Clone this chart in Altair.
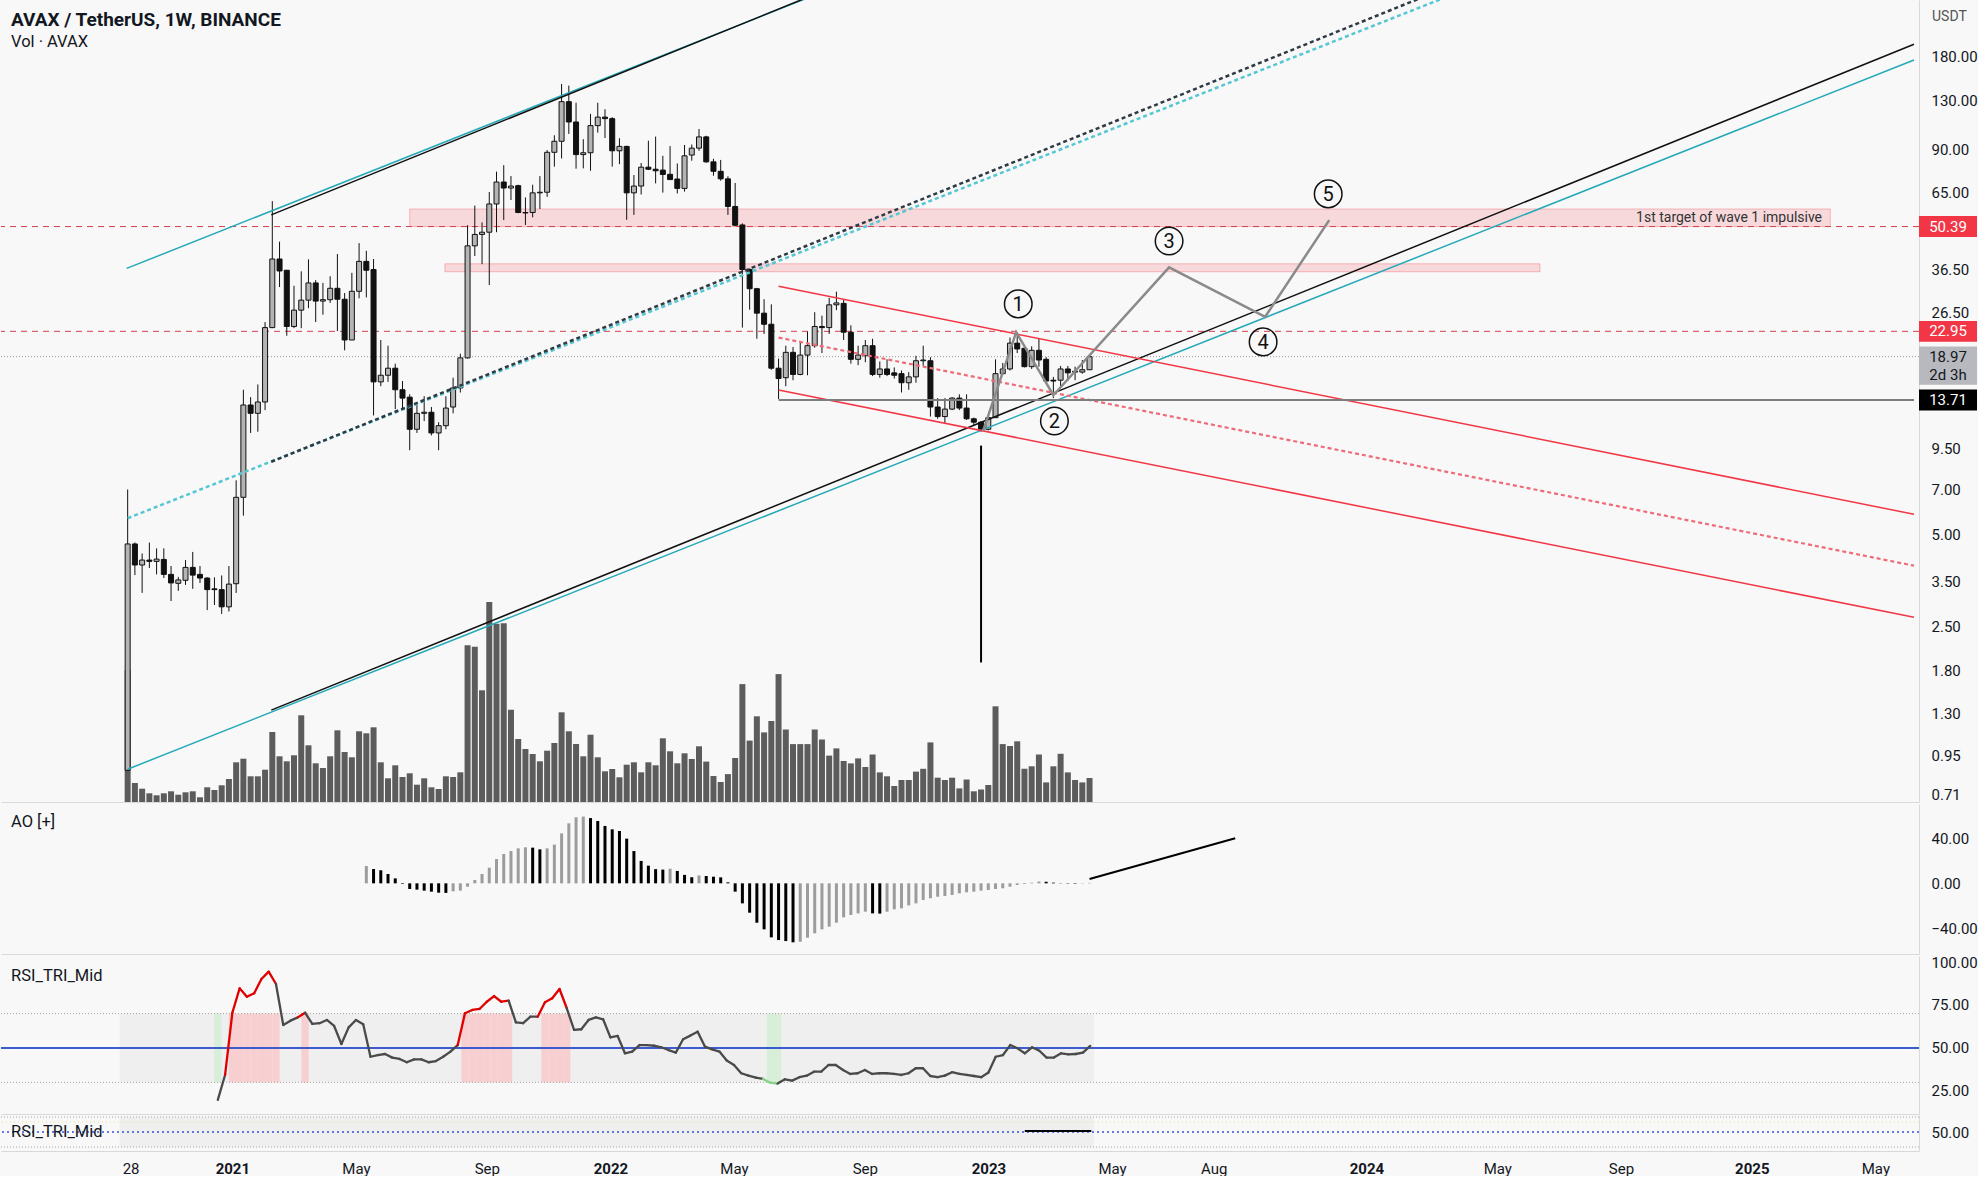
import altair as alt
import numpy as np
import pandas as pd

# ---------------------------------------------------------------- data
FIRST_WEEK = "2020-09-21"          # Monday of the first weekly candle
N_WEEKS = 134

opens = [0.85, 4.65, 3.97, 4.12, 4.08, 4.14, 3.70, 3.46, 3.54, 3.90,
         3.70, 3.60, 3.32, 3.30, 2.90, 3.45, 6.6, 13.2, 12.4, 13.5,
         23.6, 39.5, 36.3, 23.8, 26.9, 29.0, 33.0, 28.8, 29.1, 31.7,
         29.2, 21.5, 31.0, 38.8, 36.5, 15.7, 16.5, 17.4, 14.8, 14.0,
         11.0, 12.4, 12.5, 10.7, 11.3, 13.0, 15.0, 18.8, 43.6, 47.5,
         48.3, 59.7, 70.4, 67.3, 68.5, 56.0, 56.0, 64.9, 65.2, 88.0,
         95.6, 128.7, 110.5, 86.5, 87.7, 107.5, 114.6, 113.3, 89.0, 92.0,
         64.9, 68.3, 78.7, 77.5, 77.0, 74.6, 72.0, 67.1, 86.2, 90.8,
         98.8, 81.9, 76.3, 72.1, 58.6, 51.0, 36.5, 31.6, 26.3, 24.2,
         17.4, 16.2, 19.6, 16.6, 19.2, 20.6, 23.8, 23.6, 28.0, 28.3,
         22.8, 18.6, 19.1, 20.6, 16.6, 17.3, 16.8, 16.7, 15.6, 16.3,
         18.4, 18.4, 13.0, 12.1, 12.8, 13.9, 12.9, 11.9, 11.6, 11.0,
         12.0, 16.7, 17.3, 21.0, 20.2, 17.6, 19.9, 18.6, 15.9, 15.9,
         17.3, 17.0, 16.9, 17.2]
highs = [7.0, 4.7, 4.33, 4.7, 4.5, 4.5, 3.94, 3.63, 4.12, 4.38,
         3.94, 3.62, 3.62, 3.67, 3.94, 7.5, 14.8, 14.0, 15.4, 24.6,
         61.0, 45.0, 36.3, 32.3, 36.0, 39.4, 33.7, 33.0, 34.7, 41.0,
         30.6, 35.6, 44.5, 42.0, 39.5, 21.5, 20.6, 18.0, 15.8, 14.3,
         13.2, 14.1, 13.0, 11.6, 14.1, 16.2, 19.4, 50.9, 59.0, 52.0,
         65.3, 76.1, 79.9, 73.6, 69.0, 62.7, 69.0, 73.6, 89.5, 100.0,
         147.0, 145.2, 127.7, 97.1, 117.4, 127.7, 121.6, 114.6, 97.8, 92.4,
         74.2, 81.2, 96.0, 99.0, 85.7, 92.2, 80.9, 93.0, 93.3, 104.8,
         99.6, 83.8, 83.1, 73.5, 69.9, 51.6, 36.8, 31.8, 29.2, 28.1,
         18.7, 20.6, 20.4, 21.2, 22.9, 26.5, 25.8, 29.5, 30.9, 29.2,
         24.0, 20.6, 21.5, 21.7, 18.3, 18.6, 17.5, 17.1, 16.9, 19.1,
         20.6, 18.9, 13.9, 13.9, 14.0, 14.3, 14.3, 12.0, 11.7, 12.1,
         18.6, 18.1, 21.9, 22.7, 20.4, 20.5, 21.7, 18.9, 16.3, 17.7,
         17.7, 17.6, 18.5, 19.2]
lows = [0.85, 3.68, 3.22, 3.88, 3.70, 3.60, 3.03, 3.27, 3.42, 3.32,
        3.47, 2.83, 2.94, 2.75, 2.80, 3.22, 5.75, 10.7, 10.8, 12.7,
        23.5, 32.0, 22.2, 23.5, 23.5, 27.3, 24.6, 26.0, 28.4, 23.0,
        19.9, 21.5, 29.4, 29.6, 12.2, 15.2, 15.7, 12.8, 12.7, 9.4,
        10.7, 11.7, 10.5, 9.4, 11.0, 12.4, 14.5, 18.7, 40.4, 38.0,
        32.5, 48.3, 52.9, 61.5, 55.7, 51.0, 54.0, 57.5, 63.0, 79.0,
        84.0, 101.0, 77.8, 78.0, 76.6, 102.0, 98.0, 79.0, 80.5, 53.0,
        55.0, 64.1, 77.0, 69.7, 65.0, 71.7, 64.6, 65.5, 82.6, 89.0,
        81.4, 73.8, 71.1, 55.0, 50.5, 23.6, 27.0, 21.7, 22.5, 17.2,
        13.8, 15.2, 15.9, 16.5, 16.5, 20.3, 19.5, 22.5, 26.9, 21.5,
        18.0, 17.8, 18.2, 16.4, 16.2, 16.4, 16.1, 14.5, 14.8, 15.6,
        17.7, 12.1, 11.9, 11.5, 12.7, 12.7, 11.8, 11.3, 10.8, 10.9,
        12.0, 16.6, 17.1, 19.5, 17.5, 17.3, 17.6, 15.7, 13.9, 15.2,
        15.8, 15.9, 16.7, 17.2]
closes = [4.65, 3.97, 4.12, 4.08, 4.15, 3.70, 3.47, 3.55, 3.90, 3.68,
          3.60, 3.30, 3.30, 2.90, 3.44, 6.6, 13.2, 12.4, 13.5, 23.6,
          39.5, 36.1, 23.8, 26.9, 29.0, 33.0, 28.8, 29.1, 31.7, 29.2,
          21.5, 31.0, 38.8, 36.3, 15.7, 16.5, 17.4, 14.8, 13.9, 11.0,
          12.4, 12.5, 10.7, 11.3, 12.9, 15.0, 18.8, 43.6, 47.5, 48.3,
          59.7, 70.4, 67.3, 68.3, 56.0, 55.8, 64.9, 65.2, 88.0, 95.6,
          128.7, 110.5, 86.5, 87.7, 107.5, 114.6, 113.3, 89.0, 92.0, 64.9,
          68.3, 78.7, 77.5, 76.6, 74.5, 71.7, 67.1, 85.7, 90.8, 98.8,
          81.9, 76.3, 72.1, 58.6, 50.9, 36.5, 31.6, 26.3, 24.2, 17.4,
          16.1, 19.6, 16.6, 19.2, 20.6, 23.8, 23.6, 28.0, 28.4, 22.8,
          18.6, 19.2, 20.6, 16.6, 17.3, 16.6, 16.5, 15.6, 16.3, 18.4,
          18.5, 13.0, 12.1, 12.8, 13.9, 12.9, 11.9, 11.6, 11.0, 12.0,
          16.7, 17.3, 21.0, 20.1, 17.6, 19.9, 18.5, 15.8, 15.8, 17.3,
          16.8, 16.9, 17.2, 18.97]
volumes = [132, 19, 13.3, 8.7, 6.7, 8.7, 10.7, 7.3, 9.7, 10.7,
           4.7, 14.7, 12, 16.7, 23, 39.7, 43.3, 25.7, 25.7, 32.3,
           70, 45.7, 40.7, 46.7, 86.7, 56.7, 38.7, 34, 45.7, 71.7,
           50, 44.7, 70.7, 68.7, 74.7, 39.7, 23.7, 36.7, 25, 28.7,
           17.3, 23.7, 14.7, 13, 25.7, 25, 29.7, 156.7, 155.3, 111.7,
           200, 178.3, 178.7, 92.3, 63, 53, 48, 40.7, 51.3, 59,
           89.7, 70.7, 58, 45.7, 67.3, 44.7, 30.7, 33, 24.7, 37.3,
           39.7, 29.7, 39.7, 36.7, 63.7, 50.7, 38.7, 48.7, 43, 55.7,
           40.4, 26, 20, 27.9, 44, 117.9, 61.4, 85.7, 69.6, 81,
           127.9, 72.5, 57.9, 57.9, 57.9, 72.5, 62.5, 46.4, 53.6, 41,
           38.6, 43.6, 35, 47.5, 29.6, 25.7, 16, 22, 22, 30.4,
           33.2, 59.6, 24.3, 22, 24.3, 13.6, 22.5, 10.7, 12.5, 17,
           95.7, 57.9, 56, 60.7, 33.2, 35.7, 47.5, 19.6, 35.7, 48.2,
           29.6, 22, 19.6, 24]

AO_FIRST = 33      # week index of the first Awesome Oscillator bar
ao_values = [15.4, 12.7, 11.6, 8.3, 4.4, -0.5, -5.0, -5.6, -6.5, -7.4,
             -8.3, -8.5, -7.1, -6.5, -3.0, 3.0, 8.3, 13.9, 21.6, 26.1,
             28.7, 31.1, 32.0, 31.7, 30.2, 31.1, 34.4, 44.4, 53.3, 58.7,
             59.3, 58.0, 55.4, 51.0, 48.0, 46.5, 39.7, 28.7, 19.9, 15.7,
             12.6, 12.2, 13.0, 11.0, 7.5, 5.4, 7.0, 6.5, 5.9, 5.3,
             0.9, -7.4, -17.8, -26.1, -35.0, -40.9, -48.0, -50.4, -51.3, -52.4,
             -51.9, -48.3, -44.4, -40.9, -38.5, -35.0, -30.2, -28.1, -26.7, -25.2,
             -26.7, -26.9, -25.2, -23.1, -22.2, -19.6, -17.8, -14.8, -13.3, -11.9,
             -11.3, -10.4, -8.9, -8.0, -7.4, -6.5, -5.9, -5.0, -4.4, -3.0,
             -1.5, -0.6, 0.6, 1.6, 1.4, 0.6, 0.2, -0.3, -0.4, -0.3,
             0.4]

RSI_FIRST = 13     # week index of the first RSI value
rsi_values = [19.8, 34.3, 70.5, 84.7, 79.8, 81.8, 90.1, 94.4, 87.2, 63.4,
              65.9, 67.8, 70.5, 64.0, 64.4, 66.3, 62.8, 52.3, 62.0, 66.3,
              63.8, 44.9, 45.9, 46.5, 44.4, 43.6, 41.7, 43.4, 43.4, 41.7,
              42.4, 44.9, 47.9, 51.7, 70.2, 72.1, 72.7, 76.9, 80.2, 76.9,
              77.5, 64.9, 64.4, 68.2, 68.2, 76.6, 78.9, 84.3, 73.1, 60.5,
              60.9, 66.3, 67.8, 66.7, 56.2, 57.0, 46.9, 47.9, 51.7, 51.7,
              51.3, 50.4, 48.8, 47.3, 55.1, 57.2, 59.5, 50.8, 49.2, 47.9,
              42.7, 40.1, 35.3, 33.9, 32.7, 32.0, 29.8, 29.3, 31.8, 31.0,
              33.0, 33.9, 36.2, 36.2, 40.1, 40.1, 37.2, 34.9, 35.3, 37.2,
              34.9, 35.3, 35.3, 34.9, 34.3, 35.3, 38.2, 38.2, 33.7, 33.0,
              33.9, 35.9, 34.9, 34.3, 33.7, 33.0, 35.7, 44.9, 45.9, 51.7,
              49.8, 46.9, 50.4, 48.4, 44.4, 44.4, 46.9, 46.3, 46.5, 47.3,
              51.2]

price_ticks = [180, 130, 90, 65, 36.5, 26.5, 9.5, 7, 5, 3.5, 2.5, 1.8, 1.3, 0.95, 0.71]
time_ticks = ["2020-09-28", "2021-01-04", "2021-05-03", "2021-09-06", "2022-01-03",
              "2022-05-02", "2022-09-05", "2023-01-02", "2023-05-01", "2023-08-07",
              "2024-01-01", "2024-05-06", "2024-09-02", "2025-01-06", "2025-05-05"]
time_range = ["2020-05-26 05:46", "2025-06-16 00:00"]
price_range = [0.670, 276.1]
ao_range = [-62.8, 70.5]
rsi_range = [11.6, 103.5]
mid_range = [24.7, 72.7]
volume_range = [0, 802]

# drawings (date, price)
drawings = {
    "top_cyan": [("2020-09-20", 36.8), ("2022-10-09", 370)],
    "top_black": [("2021-02-07", 55.0), ("2022-10-09", 374)],
    "mid_cyan": [("2020-09-21", 5.64), ("2024-05-10", 330)],
    "mid_black": [("2021-02-07", 8.62), ("2024-05-10", 355)],
    "base_cyan": [("2020-09-21", 0.857), ("2025-06-16", 176)],
    "base_black": [("2021-02-07", 1.336), ("2025-06-16", 198)],
    "down_upper": [("2022-06-13", 32.2), ("2025-06-16", 5.81)],
    "down_mid": [("2022-06-13", 21.9), ("2025-06-16", 3.95)],
    "down_lower": [("2022-06-13", 14.78), ("2025-06-16", 2.68)],
    "support": [("2022-06-13", 13.71), ("2025-06-16", 13.71)],
    "bottom_mark": [("2022-12-26", 9.73), ("2022-12-26", 1.91)],
    "wave_path": [("2022-12-28", 10.86), ("2023-01-29", 22.8), ("2023-03-06", 14.2),
                  ("2023-06-26", 37.1), ("2023-09-27", 25.6), ("2023-11-28", 52.9)],
}
wave_labels = [("2023-01-31", 28.2, "1"), ("2023-03-07", 11.7, "2"), ("2023-06-26", 45.2, "3"),
               ("2023-09-25", 21.2, "4"), ("2023-11-27", 64.4, "5")]
zones = [("2021-06-21", "2025-03-27", 50.39, 57.5), ("2021-07-25", "2024-06-19", 35.9, 38.1)]
zone_note = ("2025-03-19", 53.7, "1st target of wave 1 impulsive")
red_levels = [50.39, 22.95]
last_price = 18.97
support_level = 13.71
ao_trend = [("2023-04-10", 3.8), ("2023-08-29", 40.0)]
mid_trend = [("2023-02-06", 51.3), ("2023-04-11", 51.3)]

# ---------------------------------------------------------------- styles
FONT = "Roboto"
TXT = "#131722"
BG = "#f8f8f8"
SEP = "#d9d9d9"
CYAN = "#25a9b8"
RED = "#f23645"
W = 1918

line_styles = {
    "top_cyan": dict(color=CYAN, strokeWidth=1.5),
    "top_black": dict(color="#111111", strokeWidth=1.5),
    "mid_cyan": dict(color="#55c6d3", strokeWidth=2.5, strokeDash=[4, 3]),
    "mid_black": dict(color="#2f3b44", strokeWidth=2.5, strokeDash=[4, 3]),
    "base_cyan": dict(color=CYAN, strokeWidth=1.5),
    "base_black": dict(color="#111111", strokeWidth=1.5),
    "down_upper": dict(color=RED, strokeWidth=1.5),
    "down_mid": dict(color="#ee6b78", strokeWidth=2.2, strokeDash=[4, 3]),
    "down_lower": dict(color=RED, strokeWidth=1.5),
    "support": dict(color="#7d7d7d", strokeWidth=2),
    "bottom_mark": dict(color="#000000", strokeWidth=2),
    "wave_path": dict(color="#8a8a8a", strokeWidth=2.5),
}

# ---------------------------------------------------------------- frames
week_dates = pd.date_range(FIRST_WEEK, periods=N_WEEKS, freq="7D")
iso = "%Y-%m-%dT%H:%M:%SZ"
half = pd.Timedelta(hours=84)

candles = pd.DataFrame(dict(date=week_dates.strftime("%Y-%m-%d"), open=opens, high=highs,
                            low=lows, close=closes, volume=volumes))
candles["dir"] = np.where(candles.close >= candles.open, "up", "down")

ao = pd.DataFrame(dict(date=week_dates[AO_FIRST:].strftime("%Y-%m-%d"), ao=ao_values))
ao["dir"] = np.where(ao.ao.diff().fillna(1) > 0, "rise", "fall")

rsi_dates = week_dates[RSI_FIRST:]
rsi = pd.DataFrame(dict(date=rsi_dates, v=rsi_values))
seg = pd.DataFrame(dict(d1=rsi.date[:-1].dt.strftime(iso).values, d2=rsi.date[1:].dt.strftime(iso).values,
                        v1=rsi.v[:-1].values, v2=rsi.v[1:].values))
seg["zone"] = np.where(seg.v2 >= 69, "over", np.where(seg.v2 < 30, "under", "mid"))
flag = rsi[(rsi.v > 70) | (rsi.v < 30)].copy()
flag["kind"] = np.where(flag.v > 70, "over", "under")
flag["x1"] = (flag.date - half).dt.strftime(iso)
flag["x2"] = (flag.date + half).dt.strftime(iso)
flag["lo"], flag["hi"] = 30, 70
flag = flag.drop(columns=["date"])
band = pd.DataFrame(dict(x1=[(week_dates[0] - half).strftime(iso)],
                         x2=[(week_dates[-1] + half).strftime(iso)], lo=[30], hi=[70]))

draw_rows = []
for name, pts in drawings.items():
    for k, (d, p) in enumerate(pts):
        draw_rows.append(dict(name=name, date=d, price=p, seq=k))
draw_df = pd.DataFrame(draw_rows)


def ms(s):
    return int(pd.Timestamp(s, tz="UTC").value // 10**6)


# ---------------------------------------------------------------- scales / axes
x_scale = alt.Scale(type="utc", domain=[ms(t) for t in time_range], nice=False)
hidden_x = alt.Axis(labels=False, ticks=False, grid=False, domain=True, domainColor=SEP, title=None)
bottom_x = alt.Axis(values=[ms(t) for t in time_ticks], ticks=False, grid=False, domainColor=SEP,
                    labelExpr=("utcmonth(datum.value) == 0 ? utcFormat(datum.value, '%Y') : "
                               "(utcyear(datum.value) == 2020 ? utcFormat(datum.value, '%d') : "
                               "utcFormat(datum.value, '%b'))"),
                    labelFontWeight={"condition": {"test": "utcmonth(datum.value) == 0", "value": "bold"},
                                     "value": "normal"},
                    labelPadding=10, labelFontSize=15, labelColor=TXT, labelFont=FONT,
                    labelOverlap=False, labelFlush=False, title=None)


def XT(field, axis):
    return alt.X(f"{field}:T", scale=x_scale, axis=axis, title=None)


def right_axis(values, fmt=".2f", expr=None):
    kw = dict(orient="right", values=values, ticks=False, grid=False, domainColor=SEP,
              labelPadding=12, labelFontSize=15, labelColor=TXT, labelFont=FONT,
              labelOverlap=False, labelFlush=False, title=None)
    if expr:
        kw["labelExpr"] = expr
    else:
        kw["format"] = fmt
    return alt.Axis(**kw)


price_scale = alt.Scale(type="log", domain=price_range, nice=False)
price_axis = right_axis(price_ticks)


def PY(field):
    return alt.Y(f"{field}:Q", scale=price_scale, axis=price_axis, title=None)


# ---------------------------------------------------------------- main pane
vol = alt.Chart(candles).mark_bar(size=6, color="#5c5c5c").encode(
    x=XT("date", hidden_x),
    y=alt.Y("volume:Q", scale=alt.Scale(domain=volume_range, nice=False), axis=None, title=None))

zone_df = pd.DataFrame(zones, columns=["d1", "d2", "lo", "hi"])
zone_layer = alt.Chart(zone_df).mark_rect(fill=RED, fillOpacity=0.16, stroke=RED, strokeOpacity=0.3,
                                          strokeWidth=1).encode(
    x=XT("d1", hidden_x), x2="d2:T", y=PY("lo"), y2="hi:Q")

red_level_layer = alt.Chart(pd.DataFrame(dict(p=red_levels))).mark_rule(
    color="#d2404f", strokeDash=[6, 5], strokeWidth=1).encode(y=PY("p"))
last_layer = alt.Chart(pd.DataFrame(dict(p=[last_price]))).mark_rule(
    color="#9a9a9a", strokeDash=[1, 2], strokeWidth=1).encode(y=PY("p"))

wick = alt.Chart(candles).mark_rule(color="#111111", strokeWidth=1).encode(
    x=XT("date", hidden_x), y=PY("low"), y2="high:Q")
body = alt.Chart(candles).mark_bar(size=5, stroke="#111111", strokeWidth=1).encode(
    x=XT("date", hidden_x), y=PY("open"), y2="close:Q",
    color=alt.Color("dir:N", scale=alt.Scale(domain=["up", "down"], range=["#b4b4b4", "#111111"]),
                    legend=None))

line_layers = []
for name, style in line_styles.items():
    line_layers.append(
        alt.Chart(draw_df[draw_df.name == name]).mark_line(clip=True, **style).encode(
            x=XT("date", hidden_x), y=PY("price"), order="seq:Q"))

wl = pd.DataFrame(wave_labels, columns=["date", "price", "label"])
wave_circles = alt.Chart(wl).mark_point(shape="circle", size=760, filled=False, color="#111111",
                                        strokeWidth=1.5, opacity=1).encode(
    x=XT("date", hidden_x), y=PY("price"))
wave_text = alt.Chart(wl).mark_text(font=FONT, fontSize=20, color="#111111", baseline="middle",
                                    dy=1).encode(x=XT("date", hidden_x), y=PY("price"), text="label:N")
note = alt.Chart(pd.DataFrame([zone_note], columns=["date", "price", "t"])).mark_text(
    font=FONT, fontSize=14, color="#333333", align="right", baseline="middle").encode(
    x=XT("date", hidden_x), y=PY("price"), text="t:N")

# price tags on the scale
tags = pd.DataFrame(dict(price=[50.39, 22.95, 13.71], t=["50.39", "22.95", "13.71"],
                         kind=["red", "red", "black"]))
tag_box = alt.Chart(tags).mark_point(shape="M-1,-0.36L1,-0.36L1,0.36L-1,0.36Z", size=3364,
                                     filled=True, opacity=1, strokeWidth=0).encode(
    x=alt.value(W + 29), y=PY("price"),
    color=alt.Color("kind:N", scale=alt.Scale(domain=["red", "black"], range=[RED, "#000000"]),
                    legend=None))
tag_text = alt.Chart(tags).mark_text(font=FONT, fontSize=15, color="#ffffff", baseline="middle").encode(
    x=alt.value(W + 29), y=PY("price"), text="t:N")
last_df = pd.DataFrame(dict(price=[last_price], t=["18.97"], s=["2d 3h"]))
last_box = alt.Chart(last_df).mark_point(shape="M-1,-0.66L1,-0.66L1,0.66L-1,0.66Z", size=3364,
                                         filled=True, opacity=1, strokeWidth=0, color="#b7b9bf",
                                         yOffset=9).encode(x=alt.value(W + 29), y=PY("price"))
last_t1 = alt.Chart(last_df).mark_text(font=FONT, fontSize=15, color=TXT, baseline="middle").encode(
    x=alt.value(W + 29), y=PY("price"), text="t:N")
last_t2 = alt.Chart(last_df).mark_text(font=FONT, fontSize=15, color=TXT, baseline="middle", dy=18).encode(
    x=alt.value(W + 29), y=PY("price"), text="s:N")

heads = pd.DataFrame(dict(t=["AVAX / TetherUS, 1W, BINANCE"], s=["Vol · AVAX"], u=["USDT"]))
head1 = alt.Chart(heads).mark_text(font=FONT, fontSize=19, fontWeight="bold", color=TXT, align="left",
                                   baseline="middle").encode(x=alt.value(10), y=alt.value(20), text="t:N")
head2 = alt.Chart(heads).mark_text(font=FONT, fontSize=16.5, color=TXT, align="left",
                                   baseline="middle").encode(x=alt.value(10), y=alt.value(42), text="s:N")
head3 = alt.Chart(heads).mark_text(font=FONT, fontSize=14, color="#555555", align="left",
                                   baseline="middle").encode(x=alt.value(W + 13), y=alt.value(17), text="u:N")

price_layer = alt.layer(zone_layer, red_level_layer, last_layer, wick, body, *line_layers,
                        wave_circles, wave_text, note, tag_box, tag_text, last_box, last_t1, last_t2,
                        head1, head2, head3).resolve_scale(color="independent")
main = alt.layer(vol, price_layer).resolve_scale(y="independent").properties(width=W, height=802)

# ---------------------------------------------------------------- AO pane
ao_scale = alt.Scale(domain=ao_range, nice=False)
ao_axis = right_axis([-40, 0, 40], expr="replace(format(datum.value, '.2f'), '-', '\u2212')")
ao_bars = alt.Chart(ao).mark_bar(size=3).encode(
    x=XT("date", hidden_x), y=alt.Y("ao:Q", scale=ao_scale, axis=ao_axis, title=None),
    color=alt.Color("dir:N", scale=alt.Scale(domain=["rise", "fall"], range=["#9c9c9c", "#000000"]),
                    legend=None))
ao_line = alt.Chart(pd.DataFrame(ao_trend, columns=["date", "v"])).mark_line(
    color="#000000", strokeWidth=2).encode(
    x=XT("date", hidden_x), y=alt.Y("v:Q", scale=ao_scale, axis=ao_axis, title=None))
ao_title = alt.Chart(pd.DataFrame(dict(t=["AO [+]"]))).mark_text(
    font=FONT, fontSize=16.5, color=TXT, align="left", baseline="middle").encode(
    x=alt.value(10), y=alt.value(18), text="t:N")
ao_pane = alt.layer(ao_bars, ao_line, ao_title).properties(width=W, height=150)

# ---------------------------------------------------------------- RSI pane
rsi_scale = alt.Scale(domain=rsi_range, nice=False)
rsi_axis = right_axis([100, 75, 50, 25])


def RY(field):
    return alt.Y(f"{field}:Q", scale=rsi_scale, axis=rsi_axis, title=None)


r_band = alt.Chart(band).mark_rect(color="#efefef").encode(x=XT("x1", hidden_x), x2="x2:T",
                                                          y=RY("lo"), y2="hi:Q")
r_flag = alt.Chart(flag).mark_rect(opacity=1).encode(
    x=XT("x1", hidden_x), x2="x2:T", y=RY("lo"), y2="hi:Q",
    color=alt.Color("kind:N", scale=alt.Scale(domain=["over", "under"], range=["#f8cfd0", "#d9eed9"]),
                    legend=None))
r_dots = alt.Chart(pd.DataFrame(dict(v=[70, 30]))).mark_rule(
    color="#a8a8a8", strokeDash=[1, 2], strokeWidth=1).encode(y=RY("v"))
r_mid = alt.Chart(pd.DataFrame(dict(v=[50]))).mark_rule(color="#3b5bcf", strokeWidth=2).encode(y=RY("v"))
r_line = alt.Chart(seg).mark_rule(strokeWidth=2.3, strokeCap="round").encode(
    x=XT("d1", hidden_x), x2="d2:T", y=RY("v1"), y2="v2:Q",
    color=alt.Color("zone:N", scale=alt.Scale(domain=["mid", "over", "under"],
                                              range=["#4a4a4a", "#e00000", "#86d486"]), legend=None))
r_title = alt.Chart(pd.DataFrame(dict(t=["RSI_TRI_Mid"]))).mark_text(
    font=FONT, fontSize=16.5, color=TXT, align="left", baseline="middle").encode(
    x=alt.value(10), y=alt.value(20), text="t:N")
rsi_pane = alt.layer(r_band, r_flag, r_dots, r_mid, r_line, r_title).resolve_scale(
    color="independent").properties(width=W, height=158)

# ---------------------------------------------------------------- small mid-line pane
mid_scale = alt.Scale(domain=mid_range, nice=False)
mid_axis = right_axis([50])


def MY(field):
    return alt.Y(f"{field}:Q", scale=mid_scale, axis=mid_axis, title=None)


m_band = alt.Chart(band).mark_rect(color="#efefef").encode(x=XT("x1", bottom_x), x2="x2:T",
                                                          y=MY("lo"), y2="hi:Q")
m_dots = alt.Chart(pd.DataFrame(dict(v=[70, 30]))).mark_rule(
    color="#a8a8a8", strokeDash=[1, 2], strokeWidth=1).encode(y=MY("v"))
m_yellow = alt.Chart(pd.DataFrame(dict(v=[63.3]))).mark_rule(
    color="#eeeaa8", strokeDash=[1, 3], strokeWidth=1.5).encode(y=MY("v"))
m_blue = alt.Chart(pd.DataFrame(dict(v=[50]))).mark_rule(
    color="#3d4fe0", strokeDash=[2, 3], strokeWidth=1.5).encode(y=MY("v"))
m_line = alt.Chart(pd.DataFrame(mid_trend, columns=["date", "v"])).mark_line(
    color="#000000", strokeWidth=2).encode(x=XT("date", bottom_x), y=MY("v"))
m_title = alt.Chart(pd.DataFrame(dict(t=["RSI_TRI_Mid"]))).mark_text(
    font=FONT, fontSize=16.5, color=TXT, align="left", baseline="middle").encode(
    x=alt.value(10), y=alt.value(17), text="t:N")
mid_pane = alt.layer(m_band, m_dots, m_yellow, m_blue, m_line, m_title).properties(width=W, height=36)

chart = alt.vconcat(main, ao_pane, rsi_pane, mid_pane, spacing=1).properties(
    background=BG, padding=0
).configure_view(stroke=None).configure_text(font=FONT)

chart.save("out.html", embed_options={"renderer": "svg", "actions": False})
